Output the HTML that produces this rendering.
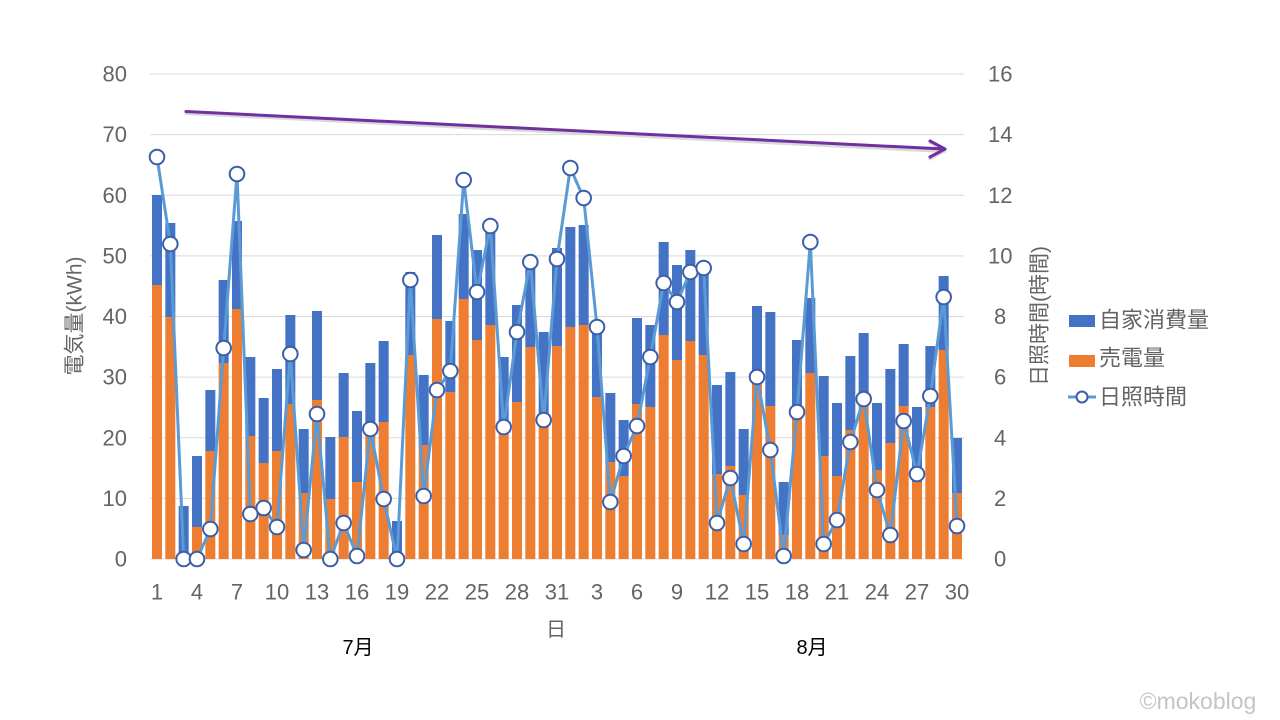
<!DOCTYPE html>
<html lang="ja">
<head>
<meta charset="utf-8">
<style>
html,body{margin:0;padding:0;background:#ffffff;}
body{width:1280px;height:720px;overflow:hidden;}
svg{display:block;}
.tk{font-family:"Liberation Sans","Noto Sans CJK JP",sans-serif;font-size:22px;fill:#646464;}
.jp{font-family:"Liberation Sans","Noto Sans CJK JP",sans-serif;fill:#646464;}
</style>
</head>
<body>
<svg width="1280" height="720" viewBox="0 0 1280 720" xmlns="http://www.w3.org/2000/svg">
<defs>
<marker id="dot" markerUnits="userSpaceOnUse" markerWidth="20" markerHeight="20" refX="10" refY="10" overflow="visible">
<circle cx="10" cy="10" r="7.3" fill="#ffffff" stroke="#3B5EA8" stroke-width="2"/>
</marker>
</defs>
<rect x="0" y="0" width="1280" height="720" fill="#ffffff"/>
<path stroke="#d9d9d9" stroke-width="1" fill="none" d="M150 74H964M150 134.6H964M150 195.25H964M150 255.9H964M150 316.5H964M150 377.1H964M150 437.75H964M150 498.4H964M150 559H964"/>
<g class="tk" text-anchor="end" dominant-baseline="central">
<text x="127" y="74">80</text><text x="127" y="134.6">70</text><text x="127" y="195.25">60</text>
<text x="127" y="255.9">50</text><text x="127" y="316.5">40</text><text x="127" y="377.1">30</text>
<text x="127" y="437.75">20</text><text x="127" y="498.4">10</text><text x="127" y="559">0</text>
</g>
<g class="tk" text-anchor="start" dominant-baseline="central">
<text x="988" y="74">16</text><text x="988" y="134.6">14</text><text x="988" y="195.25">12</text>
<text x="988" y="255.9">10</text><text x="994" y="316.5">8</text><text x="994" y="377.1">6</text>
<text x="994" y="437.75">4</text><text x="994" y="498.4">2</text><text x="994" y="559">0</text>
</g>
<path fill="#4472C4" d="M152 195h10v90h-10z M165.33 223h10v94h-10z M178.67 506h10v53h-10z M192 456h10v71h-10z M205.33 390h10v61h-10z M218.67 280h10v83h-10z M232 221h10v88h-10z M245.33 357h10v79h-10z M258.67 398h10v65h-10z M272 369h10v82h-10z M285.33 315h10v89h-10z M298.67 429h10v64h-10z M312 311h10v89h-10z M325.33 437h10v62h-10z M338.67 373h10v64h-10z M352 411h10v71h-10z M365.33 363h10v67h-10z M378.67 341h10v81h-10z M392 521h10v38h-10z M405.33 272h10v83h-10z M418.67 375h10v70h-10z M432 235h10v84h-10z M445.33 321h10v71h-10z M458.67 214h10v85h-10z M472 250h10v90h-10z M485.33 226h10v99h-10z M498.67 357h10v73h-10z M512 305h10v97h-10z M525.33 262h10v85h-10z M538.67 332h10v91h-10z M552 248h10v98h-10z M565.33 227h10v100h-10z M578.67 225h10v100h-10z M592 328h10v69h-10z M605.33 393h10v69h-10z M618.67 420h10v56h-10z M632 318h10v86h-10z M645.33 325h10v82h-10z M658.67 242h10v93h-10z M672 265h10v95h-10z M685.33 250h10v91h-10z M698.67 268h10v87h-10z M712 385h10v89h-10z M725.33 372h10v94h-10z M738.67 429h10v66h-10z M752 306h10v77h-10z M765.33 312h10v94h-10z M778.67 482h10v53h-10z M792 340h10v73h-10z M805.33 298h10v75h-10z M818.67 376h10v80h-10z M832 403h10v73h-10z M845.33 356h10v74h-10z M858.67 333h10v70h-10z M872 403h10v67h-10z M885.33 369h10v74h-10z M898.67 344h10v62h-10z M912 407h10v75h-10z M925.33 346h10v61h-10z M938.67 276h10v74h-10z M952 438h10v55h-10z"/>
<path fill="#ED7D31" d="M152 285h10v274h-10z M165.33 317h10v242h-10z M192 527h10v32h-10z M205.33 451h10v108h-10z M218.67 363h10v196h-10z M232 309h10v250h-10z M245.33 436h10v123h-10z M258.67 463h10v96h-10z M272 451h10v108h-10z M285.33 404h10v155h-10z M298.67 493h10v66h-10z M312 400h10v159h-10z M325.33 499h10v60h-10z M338.67 437h10v122h-10z M352 482h10v77h-10z M365.33 430h10v129h-10z M378.67 422h10v137h-10z M405.33 355h10v204h-10z M418.67 445h10v114h-10z M432 319h10v240h-10z M445.33 392h10v167h-10z M458.67 299h10v260h-10z M472 340h10v219h-10z M485.33 325h10v234h-10z M498.67 430h10v129h-10z M512 402h10v157h-10z M525.33 347h10v212h-10z M538.67 423h10v136h-10z M552 346h10v213h-10z M565.33 327h10v232h-10z M578.67 325h10v234h-10z M592 397h10v162h-10z M605.33 462h10v97h-10z M618.67 476h10v83h-10z M632 404h10v155h-10z M645.33 407h10v152h-10z M658.67 335h10v224h-10z M672 360h10v199h-10z M685.33 341h10v218h-10z M698.67 355h10v204h-10z M712 474h10v85h-10z M725.33 466h10v93h-10z M738.67 495h10v64h-10z M752 383h10v176h-10z M765.33 406h10v153h-10z M778.67 535h10v24h-10z M792 413h10v146h-10z M805.33 373h10v186h-10z M818.67 456h10v103h-10z M832 476h10v83h-10z M845.33 430h10v129h-10z M858.67 403h10v156h-10z M872 470h10v89h-10z M885.33 443h10v116h-10z M898.67 406h10v153h-10z M912 482h10v77h-10z M925.33 407h10v152h-10z M938.67 350h10v209h-10z M952 493h10v66h-10z"/>
<polyline fill="none" stroke="#5B9BD5" stroke-width="3" stroke-linejoin="round" marker-start="url(#dot)" marker-mid="url(#dot)" marker-end="url(#dot)" points="157,157 170.33,244 183.67,559 197,559 210.33,529 223.67,348 237,174 250.33,514 263.67,508 277,527 290.33,354 303.67,550 317,414 330.33,559 343.67,523 357,556 370.33,429 383.67,499 397,559 410.33,280 423.67,496 437,390 450.33,371 463.67,180 477,292 490.33,226 503.67,427 517,332 530.33,262 543.67,420 557,259 570.33,168 583.67,198 597,327 610.33,502 623.67,456 637,426 650.33,357 663.67,283 677,302 690.33,272 703.67,268 717,523 730.33,478 743.67,544 757,377 770.33,450 783.67,556 797,412 810.33,242 823.67,544 837,520 850.33,442 863.67,399 877,490 890.33,535 903.67,421 917,474 930.33,396 943.67,297 957,526"/>
<g fill="none" stroke-linecap="round" stroke-linejoin="round">
<path d="M186 113.5L944 151.5M930 142.5L945 150.5L930 159" stroke="#cfcfcf" stroke-width="3" opacity="0.8"/>
<path d="M186 111.5L944 149M930 141L945 149L930 157" stroke="#7030A0" stroke-width="3"/>
</g>
<g class="tk" text-anchor="middle" dominant-baseline="central">
<text x="157" y="592">1</text><text x="197" y="592">4</text><text x="237" y="592">7</text>
<text x="277" y="592">10</text><text x="317" y="592">13</text><text x="357" y="592">16</text>
<text x="397" y="592">19</text><text x="437" y="592">22</text><text x="477" y="592">25</text>
<text x="517" y="592">28</text><text x="557" y="592">31</text><text x="597" y="592">3</text>
<text x="637" y="592">6</text><text x="677" y="592">9</text><text x="717" y="592">12</text>
<text x="757" y="592">15</text><text x="797" y="592">18</text><text x="837" y="592">21</text>
<text x="877" y="592">24</text><text x="917" y="592">27</text><text x="957" y="592">30</text>
</g>
<text class="jp" x="556" y="630" font-size="20" text-anchor="middle" dominant-baseline="central">日</text>
<text class="jp" x="358" y="648" font-size="20" text-anchor="middle" dominant-baseline="central" style="fill:#000000">7月</text>
<text class="jp" x="812" y="648" font-size="20" text-anchor="middle" dominant-baseline="central" style="fill:#000000">8月</text>
<text class="jp" transform="translate(75,316) rotate(-90)" font-size="21" text-anchor="middle" dominant-baseline="central">電気量(kWh)</text>
<text class="jp" transform="translate(1040,316) rotate(-90)" font-size="21" text-anchor="middle" dominant-baseline="central">日照時間(時間)</text>
<rect x="1069" y="315" width="26" height="12" fill="#4472C4"/>
<text class="jp" x="1099" y="320" font-size="22" dominant-baseline="central">自家消費量</text>
<rect x="1069" y="355" width="26" height="12" fill="#ED7D31"/>
<text class="jp" x="1099" y="358" font-size="22" dominant-baseline="central">売電量</text>
<line x1="1068" y1="397" x2="1096" y2="397" stroke="#5B9BD5" stroke-width="3"/>
<circle cx="1082" cy="397" r="5.5" fill="#ffffff" stroke="#3B5EA8" stroke-width="2"/>
<text class="jp" x="1099" y="397" font-size="22" dominant-baseline="central">日照時間</text>
<text x="1198" y="701" font-family="Liberation Sans, sans-serif" font-size="23" fill="#c4c4c4" text-anchor="middle" dominant-baseline="central">©mokoblog</text>
</svg>
</body>
</html>
